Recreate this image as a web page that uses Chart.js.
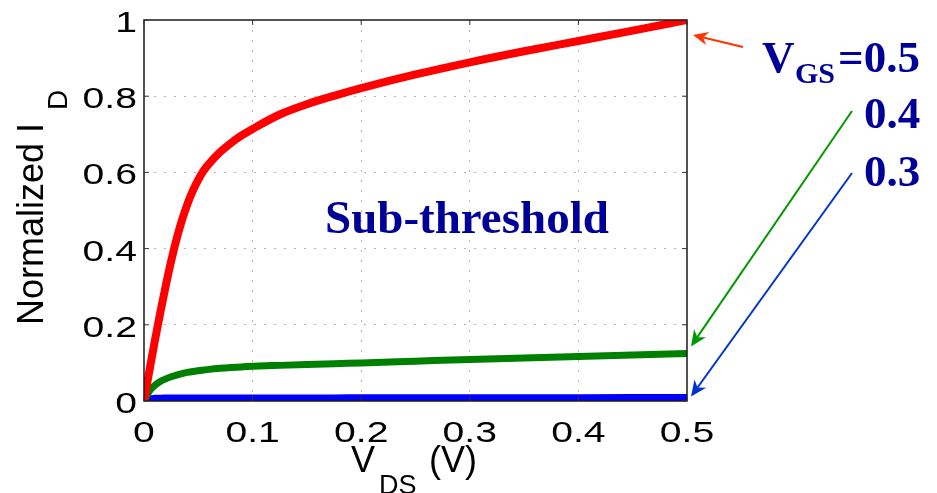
<!DOCTYPE html>
<html>
<head>
<meta charset="utf-8">
<title>Sub-threshold I-V</title>
<script src="https://cdn.jsdelivr.net/npm/chart.js@4.4.1/dist/chart.umd.min.js"></script>
<style>
  html, body { margin: 0; padding: 0; background: #fff; }
  #wrap { position: relative; width: 937px; height: 493px; }
</style>
</head>
<body>
<div id="wrap"><canvas id="mycanvas" width="937" height="493"></canvas></div>
<script>
// --- data ---
// V_DS (V)
const vds = [0, 0.005, 0.01, 0.015, 0.02, 0.025, 0.03, 0.035, 0.04, 0.045, 0.05, 0.055, 0.06, 0.07, 0.08, 0.09,
             0.1, 0.125, 0.15, 0.175, 0.2, 0.25, 0.3, 0.35, 0.4, 0.45, 0.5];
// normalized I_D for each V_GS
const id05 = [0, 0.08, 0.158, 0.232, 0.302, 0.367, 0.425, 0.475, 0.517, 0.552, 0.581, 0.605, 0.623, 0.653, 0.677, 0.697,
              0.714, 0.752, 0.779, 0.801, 0.821, 0.857, 0.889, 0.918, 0.945, 0.972, 1.0];
const id04 = [0, 0.026, 0.041, 0.051, 0.058, 0.0635, 0.068, 0.0718, 0.075, 0.0775, 0.0795, 0.0813, 0.083, 0.0857, 0.0878, 0.0895,
              0.091, 0.0935, 0.0958, 0.098, 0.1, 0.1045, 0.109, 0.113, 0.117, 0.121, 0.125];
const id03 = [0, 0.006, 0.007, 0.0075, 0.0077, 0.0078, 0.0079, 0.008, 0.008, 0.008, 0.008, 0.008, 0.008, 0.008, 0.008, 0.008,
              0.008, 0.008, 0.0081, 0.0082, 0.0083, 0.0085, 0.0086, 0.0087, 0.0088, 0.0089, 0.009];
const vgs = ['0.5', '0.4', '0.3'];
const colors = ['#ff0000', '#008000', '#0000ff'];
// tick labels
const xTickLabels = ['0', '0.1', '0.2', '0.3', '0.4', '0.5'];
const yTickLabels = ['0', '0.2', '0.4', '0.6', '0.8', '1'];

const pts = (ys) => vds.map((v, i) => ({ x: v, y: ys[i] }));

// draw text stretched horizontally
function stretchText(ctx, txt, x, y, align, sx) {
  ctx.save();
  ctx.translate(x, y);
  ctx.scale(sx, 1);
  ctx.textAlign = align;
  ctx.textBaseline = 'alphabetic';
  ctx.fillText(txt, 0, 0);
  ctx.restore();
}

function arrow(ctx, x0, y0, x1, y1, color, head) {
  const ang = Math.atan2(y1 - y0, x1 - x0);
  const c = Math.cos(ang), s = Math.sin(ang);
  ctx.strokeStyle = color;
  ctx.fillStyle = color;
  ctx.lineWidth = 2;
  ctx.beginPath();
  ctx.moveTo(x0, y0);
  ctx.lineTo(x1 - c * head * 0.7, y1 - s * head * 0.7);
  ctx.stroke();
  ctx.beginPath();
  ctx.moveTo(x1, y1);
  ctx.lineTo(x1 - head * c + head * 0.45 * s, y1 - head * s - head * 0.45 * c);
  ctx.lineTo(x1 - head * 0.7 * c, y1 - head * 0.7 * s);
  ctx.lineTo(x1 - head * c - head * 0.45 * s, y1 - head * s + head * 0.45 * c);
  ctx.closePath();
  ctx.fill();
}

const sketch = {
  id: 'sketch',
  afterDraw(chart) {
    const ctx = chart.ctx;
    const a = chart.chartArea;
    const sx = chart.scales.x, sy = chart.scales.y;
    ctx.save();

    // axes box
    ctx.strokeStyle = '#1a1a1a';
    ctx.lineWidth = 1.5;
    ctx.strokeRect(a.left, a.top, a.right - a.left, a.bottom - a.top);

    // inward ticks on all four sides
    ctx.lineWidth = 1;
    ctx.strokeStyle = '#333';
    ctx.beginPath();
    sx.ticks.forEach(t => {
      const px = sx.getPixelForValue(t.value);
      ctx.moveTo(px, a.bottom); ctx.lineTo(px, a.bottom - 5);
      ctx.moveTo(px, a.top); ctx.lineTo(px, a.top + 5);
    });
    sy.ticks.forEach(t => {
      const py = sy.getPixelForValue(t.value);
      ctx.moveTo(a.left, py); ctx.lineTo(a.left + 5, py);
      ctx.moveTo(a.right, py); ctx.lineTo(a.right - 5, py);
    });
    ctx.stroke();

    // tick labels
    ctx.fillStyle = '#000';
    ctx.font = '29px "Liberation Sans", Arial, sans-serif';
    sx.ticks.forEach(t => {
      stretchText(ctx, t.label, sx.getPixelForValue(t.value), a.bottom + 41, 'center', 1.35);
    });
    sy.ticks.forEach(t => {
      stretchText(ctx, t.label, a.left - 7, sy.getPixelForValue(t.value) + 12, 'right', 1.35);
    });

    // x axis title: V_DS (V)
    ctx.textAlign = 'left';
    ctx.textBaseline = 'alphabetic';
    ctx.font = '36px "Liberation Sans", Arial, sans-serif';
    ctx.fillText('V', 351, 472);
    ctx.fillText('(V)', 429, 472);
    ctx.font = '27px "Liberation Sans", Arial, sans-serif';
    ctx.fillText('DS', 379, 494);

    // y axis title: Normalized I_D
    ctx.save();
    ctx.translate(43, 325);
    ctx.rotate(-Math.PI / 2);
    ctx.font = '36px "Liberation Sans", Arial, sans-serif';
    ctx.fillText('Normalized I', 0, 0);
    ctx.font = '28px "Liberation Sans", Arial, sans-serif';
    ctx.fillText('D', 215, 24);
    ctx.restore();

    // annotations
    ctx.fillStyle = '#000099';
    ctx.font = 'bold 47px "Liberation Serif", "Times New Roman", serif';
    ctx.fillText('Sub-threshold', 325, 233);

    ctx.font = 'bold 45px "Liberation Serif", "Times New Roman", serif';
    ctx.fillText('V', 762, 72);
    ctx.fillText('=' + vgs[0], 838, 72);
    ctx.fillText(vgs[1], 864, 128);
    ctx.fillText(vgs[2], 864, 186);
    ctx.font = 'bold 30px "Liberation Serif", "Times New Roman", serif';
    ctx.fillText('GS', 795, 83);

    // arrows pointing at the curve ends
    const xe = sx.getPixelForValue(0.5);
    arrow(ctx, 743, 47, xe + 6, sy.getPixelForValue(id05[id05.length - 1]) + 15, '#ff3300', 15);
    arrow(ctx, 852, 111, xe + 4, sy.getPixelForValue(id04[id04.length - 1]) - 7, '#009900', 16);
    arrow(ctx, 852, 173, xe + 4, sy.getPixelForValue(id03[id03.length - 1]) - 1, '#0033cc', 16);

    ctx.restore();
  }
};

const gridColor = (c) => {
  const v = c.tick ? c.tick.value : null;
  return (v === null || Math.abs(v) < 1e-9 || Math.abs(v - c.scale.max) < 1e-9) ? 'rgba(0,0,0,0)' : '#b4b4b4';
};

const ctx = document.getElementById('mycanvas');
new Chart(ctx, {
  type: 'line',
  data: {
    datasets: vgs.map((g, i) => ({
      label: 'VGS=' + g,
      data: pts([id05, id04, id03][i]),
      borderColor: colors[i],
      backgroundColor: colors[i],
      borderWidth: i === 0 ? 8 : 7,
      pointRadius: 0,
      fill: false,
      cubicInterpolationMode: 'monotone',
      borderCapStyle: 'butt'
    }))
  },
  options: {
    responsive: false,
    animation: false,
    devicePixelRatio: 1,
    layout: { padding: { left: 0, right: 250, top: 20, bottom: 0 } },
    plugins: { legend: { display: false }, tooltip: { enabled: false } },
    scales: {
      x: {
        type: 'linear', min: 0, max: 0.5,
        ticks: { stepSize: 0.1, display: false, callback: (v, i) => xTickLabels[i] },
        grid: { color: gridColor, drawTicks: false, lineWidth: 1 },
        border: { display: false, dash: [2, 8] },
        afterFit: (s) => { s.height = 92; }
      },
      y: {
        type: 'linear', min: 0, max: 1,
        ticks: { stepSize: 0.2, display: false, callback: (v, i) => yTickLabels[i] },
        grid: { color: gridColor, drawTicks: false, lineWidth: 1 },
        border: { display: false, dash: [2, 8] },
        afterFit: (s) => { s.width = 144; }
      }
    }
  },
  plugins: [sketch]
});
</script>
</body>
</html>
